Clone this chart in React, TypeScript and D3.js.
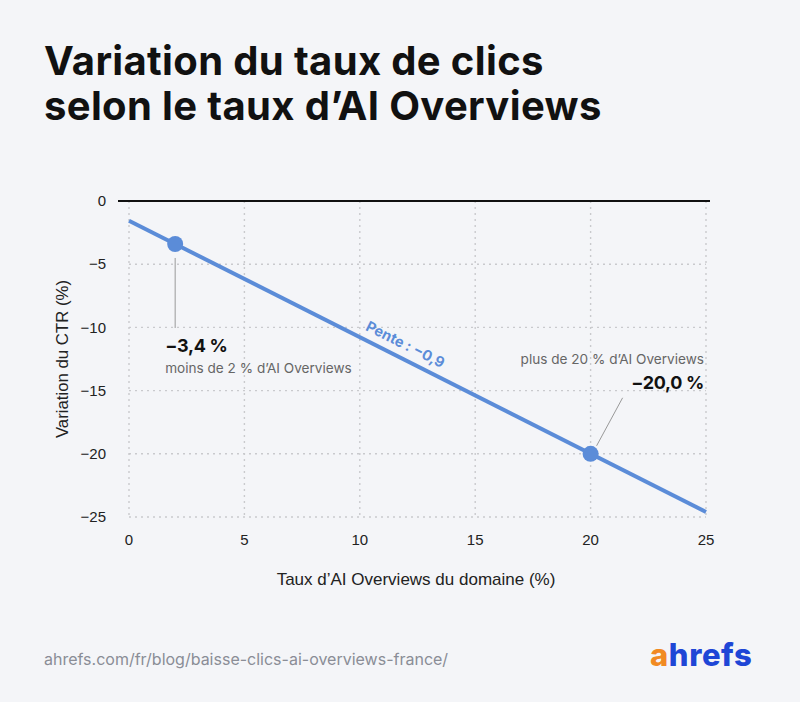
import * as d3 from "d3";

// data
const xTicks = [0, 5, 10, 15, 20, 25];
const yTicks = [0, -5, -10, -15, -20, -25];
const trendLine: [number, number][] = [
  [0, -1.56],
  [25, -24.6],
];
const highlights = [
  { x: 2, y: -3.4, value: "−3,4 %", note: "moins de 2 % d’AI Overviews" },
  { x: 20, y: -20.0, value: "−20,0 %", note: "plus de 20 % d’AI Overviews" },
];
const titleLines = ["Variation du taux de clics", "selon le taux d’AI Overviews"];
const slopeLabel = "Pente : −0,9";

const W = 800;
const H = 702;
const BLUE = "#5b8cd8";
const axisFont = "'Liberation Sans', Arial, sans-serif";
const uiFont = "Inter, 'Noto Sans', sans-serif";

export default function App() {
  const x = d3.scaleLinear().domain([0, 25]).range([129, 706]);
  const y = d3.scaleLinear().domain([-25, 0]).range([517, 201]);
  const line = d3
    .line<[number, number]>()
    .x((d) => x(d[0]))
    .y((d) => y(d[1]));

  // angle of the trend line in screen space
  const [p0, p1] = trendLine;
  const angle =
    (Math.atan2(y(p1[1]) - y(p0[1]), x(p1[0]) - x(p0[0])) * 180) / Math.PI;
  const slopeX = 11.7;
  const slopeY = p0[1] + ((p1[1] - p0[1]) / (p1[0] - p0[0])) * (slopeX - p0[0]);

  const [lo, hi] = highlights;

  return (
    <svg
      width={W}
      height={H}
      style={{ position: "absolute", left: 0, top: 0 }}
    >
      <rect width={W} height={H} fill="#f4f5f8" />

      {/* title */}
      {titleLines.map((t, i) => (
        <text
          key={t}
          x={44}
          y={75 + i * 45}
          fontFamily={uiFont}
          fontWeight={700}
          fontSize={40}
          letterSpacing={0.35}
          fill="#111"
        >
          {t}
        </text>
      ))}

      {/* grid */}
      {xTicks.map((t) => (
        <line
          key={"gx" + t}
          x1={x(t)}
          x2={x(t)}
          y1={y(0)}
          y2={y(-25)}
          stroke="#c9cacd"
          strokeWidth={1.4}
          strokeDasharray="2 4"
        />
      ))}
      {yTicks
        .filter((t) => t !== 0)
        .map((t) => (
          <line
            key={"gy" + t}
            x1={x(0)}
            x2={x(25)}
            y1={y(t)}
            y2={y(t)}
            stroke="#c9cacd"
            strokeWidth={1.4}
            strokeDasharray="2 4"
          />
        ))}
      <line
        x1={x(0) - 11}
        x2={x(25) + 4}
        y1={y(0)}
        y2={y(0)}
        stroke="#111"
        strokeWidth={2}
      />

      {/* tick labels */}
      {yTicks.map((t) => (
        <text
          key={"ty" + t}
          x={106}
          y={y(t)}
          dy="0.35em"
          textAnchor="end"
          fontFamily={axisFont}
          fontSize={15}
          fill="#222"
        >
          {t === 0 ? "0" : "−" + Math.abs(t)}
        </text>
      ))}
      {xTicks.map((t) => (
        <text
          key={"tx" + t}
          x={x(t)}
          y={545}
          textAnchor="middle"
          fontFamily={axisFont}
          fontSize={15}
          fill="#222"
        >
          {t}
        </text>
      ))}

      {/* axis titles */}
      <text
        transform={`translate(68,359) rotate(-90)`}
        textAnchor="middle"
        fontFamily={axisFont}
        fontSize={16.8}
        fill="#222"
      >
        Variation du CTR (%)
      </text>
      <text
        x={416}
        y={585}
        textAnchor="middle"
        fontFamily={axisFont}
        fontSize={17}
        fill="#222"
      >
        Taux d’AI Overviews du domaine (%)
      </text>

      {/* trend line */}
      <path d={line(trendLine) ?? ""} fill="none" stroke={BLUE} strokeWidth={4} />
      <text
        transform={`translate(${x(slopeX)},${y(slopeY)}) rotate(${angle})`}
        y={-9}
        textAnchor="middle"
        fontFamily={uiFont}
        fontWeight={700}
        fontSize={14.5}
        fill={BLUE}
      >
        {slopeLabel}
      </text>

      {/* low annotation */}
      <line
        x1={x(lo.x)}
        x2={x(lo.x)}
        y1={y(lo.y) + 14}
        y2={y(lo.y) + 84}
        stroke="#999"
        strokeWidth={1}
      />
      <text
        x={x(lo.x) - 10}
        y={352}
        fontFamily={uiFont}
        fontWeight={700}
        fontSize={18}
        letterSpacing={-0.3}
        fill="#111"
      >
        {lo.value}
      </text>
      <text
        x={x(lo.x) - 10}
        y={373}
        fontFamily={uiFont}
        fontSize={13.6}
        fill="#666"
      >
        {lo.note}
      </text>

      {/* high annotation */}
      <line
        x1={x(hi.x) + 6}
        x2={x(hi.x) + 32}
        y1={y(hi.y) - 8}
        y2={y(hi.y) - 56}
        stroke="#999"
        strokeWidth={1}
      />
      <text
        x={704}
        y={364}
        textAnchor="end"
        fontFamily={uiFont}
        fontSize={13.6}
        fill="#666"
      >
        {hi.note}
      </text>
      <text
        x={704}
        y={389}
        textAnchor="end"
        fontFamily={uiFont}
        fontWeight={700}
        fontSize={18}
        letterSpacing={-0.3}
        fill="#111"
      >
        {hi.value}
      </text>

      {highlights.map((d) => (
        <circle key={d.x} cx={x(d.x)} cy={y(d.y)} r={8} fill={BLUE} />
      ))}

      {/* footer */}
      <text
        x={44}
        y={665}
        fontFamily={uiFont}
        fontSize={16}
        fill="#8a8d96"
      >
        ahrefs.com/fr/blog/baisse-clics-ai-overviews-france/
      </text>
      <text
        x={650}
        y={666}
        fontFamily={uiFont}
        fontWeight={800}
        fontSize={31}
        letterSpacing={0.6}
      >
        <tspan fill="#f18a22">a</tspan>
        <tspan fill="#1e46d6">hrefs</tspan>
      </text>
    </svg>
  );
}
